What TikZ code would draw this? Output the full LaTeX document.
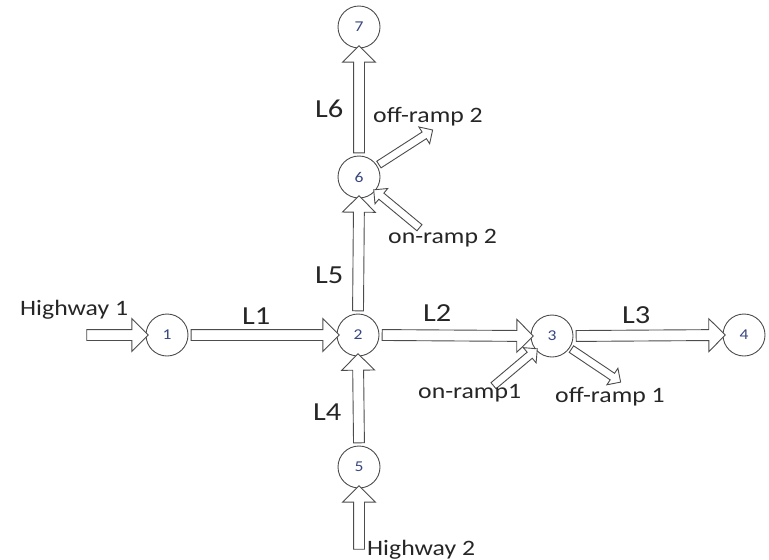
\documentclass[tikz,border=0pt]{standalone}
\usepackage{fontspec}
\setmainfont{Carlito}[FakeStretch=1.17]
\usetikzlibrary{shapes.arrows,calc}
\definecolor{numblue}{RGB}{55,70,125}
\tikzset{
  junc/.style={circle, draw=black!70, line width=0.9pt, minimum size=42pt, inner sep=0pt,
    font=\fontsize{15}{15}\selectfont, text=numblue},
  hol/.style={single arrow, draw=black!70, line width=0.9pt, fill=white,
    inner xsep=0pt, inner ysep=5pt, text height=0pt, text depth=0pt,
    single arrow head extend=11pt, single arrow tip angle=90, single arrow head indent=0pt},
  holsmall/.style={hol, inner ysep=3.5pt, single arrow head extend=6pt},
  lab/.style={font=\fontsize{26}{26}\selectfont, inner sep=0pt, anchor=base west, text=black!85},
  ramp/.style={font=\fontsize{22}{22}\selectfont, inner sep=0pt, anchor=base west, text=black!85}
}
\newcommand\hwarrow[4][hol]{%
  \path let \p1=(#3), \p2=(#4), \n1={veclen(\x2-\x1,\y2-\y1)}, \n2={atan2(\y2-\y1,\x2-\x1)} in
    node[#1, minimum height=\n1, rotate=\n2] (#2) at ($(\p1)!0.5!(\p2)$) {};}
\begin{document}
\begin{tikzpicture}[x=1pt,y=-1pt]
\useasboundingbox (0,0) rectangle (769,560);
% junctions
\node[junc] (n1) at (167,335) {1};
\node[junc] (n2) at (358,335) {2};
\node[junc] (n3) at (552,336) {3};
\node[junc] (n4) at (744,335) {4};
\node[junc] (n5) at (359,467) {5};
\node[junc] (n6) at (359,177) {6};
\node[junc] (n7) at (359,27) {7};
% free ends
\coordinate (h1) at (84,335);
\coordinate (h2) at (359,552);
\coordinate (onr2) at (421,229);
\coordinate (offr2) at (431,131);
\coordinate (onr1) at (492,387);
\coordinate (offr1) at (619,381);
% links
\hwarrow{ah1}{h1}{n1.west}
\hwarrow{aL1}{n1.east}{n2.west}
\hwarrow{aL2}{n2.east}{n3.west}
\hwarrow{aL3}{n3.east}{n4.west}
\hwarrow{aL4}{n5.north}{n2.south}
\hwarrow{aL5}{n2.north}{n6.south}
\hwarrow{aL6}{n6.north}{n7.south}
\hwarrow{ah2}{h2}{n5.south}
\hwarrow[holsmall]{aon2}{onr2}{n6.-41}
\hwarrow[holsmall]{aoff2}{n6.32}{offr2}
\hwarrow[holsmall]{aon1}{onr1}{n3.-139}
\hwarrow[holsmall]{aoff1}{n3.-34}{offr1}
% labels
\node[ramp] (th1) at (20,315) {Highway 1};
\node[lab] (tL1) at (242,324) {L1};
\node[lab] (tL2) at (423,321) {L2};
\node[lab] (tL3) at (622,323) {L3};
\node[lab] (tL4) at (313,420) {L4};
\node[lab] (tL5) at (315,283) {L5};
\node[lab] (tL6) at (315,117) {L6};
\node[ramp] (toff2) at (373,122) {off-ramp 2};
\node[ramp] (ton2) at (388,243) {on-ramp 2};
\node[ramp] (ton1) at (418,398) {on-ramp1};
\node[ramp] (toff1) at (555,402) {off-ramp 1};
\node[ramp] (th2) at (367,555) {Highway 2};
\end{tikzpicture}
\end{document}
